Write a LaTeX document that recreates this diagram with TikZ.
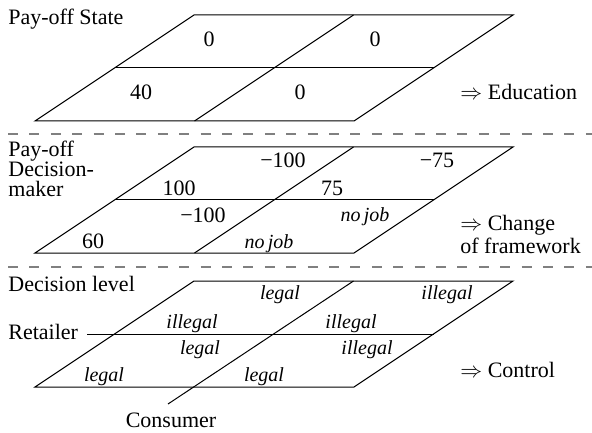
\documentclass[tikz,border=0pt]{standalone}
\usepackage{fontspec}
\setmainfont{Liberation Serif}
\tikzset{
  plane/.style={line width=0.5pt},
  sepline/.style={gray, line width=0.6pt, dash pattern=on 5pt off 5.7pt},
  val/.style={anchor=base, inner sep=0pt},
  lvl/.style={anchor=base, inner sep=0pt, font=\itshape},
  side/.style={anchor=base west, inner sep=0pt, align=left},
}
\begin{document}
\begin{tikzpicture}[x=0.5pt, y=-0.5pt, font=\fontsize{11}{10}\selectfont]
\useasboundingbox (0,0) rectangle (592,432);
% pay-off state
\coordinate (s1tl) at (194,15);
\coordinate (s1tr) at (513,15);
\coordinate (s1br) at (354,121);
\coordinate (s1bl) at (35,121);
\coordinate (s1ml) at (114.5,68);
\coordinate (s1mr) at (433.5,68);
\coordinate (s1tc) at (353.5,15);
\coordinate (s1bc) at (194.5,121);
\draw[plane] (s1tl) -- (s1tr) -- (s1br) -- (s1bl) -- cycle;
\draw[plane] (s1ml) -- (s1mr);
\draw[plane] (s1tc) -- (s1bc);
\node[side] (pstate) at (8,25) {Pay-off State};
\node[val] (s1a) at (209,47) {0};
\node[val] (s1b) at (375,47) {0};
\node[val] (s1c) at (141,100) {40};
\node[val] (s1d) at (300,100) {0};
\node[side] (educ) at (460,100) {$\Rightarrow$ Education};
\coordinate (sep1l) at (8,134);
\coordinate (sep1r) at (592,134);
\draw[sepline] (sep1l) -- (sep1r);
% pay-off decision-maker
\coordinate (s2tl) at (194,147);
\coordinate (s2tr) at (513,147);
\coordinate (s2br) at (354,253);
\coordinate (s2bl) at (35,253);
\coordinate (s2ml) at (114.5,200);
\coordinate (s2mr) at (433.5,200);
\coordinate (s2tc) at (353.5,147);
\coordinate (s2bc) at (194.5,253);
\draw[plane] (s2tl) -- (s2tr) -- (s2br) -- (s2bl) -- cycle;
\draw[plane] (s2ml) -- (s2mr);
\draw[plane] (s2tc) -- (s2bc);
\node[side] (pdm) at (8,197) {Pay-off\\Decision-\\maker};
\node[val] (s2a) at (283,168) {−100};
\node[val] (s2b) at (179,196) {100};
\node[val] (s2c) at (437,168) {−75};
\node[val] (s2d) at (332,196) {75};
\node[val] (s2e) at (203,222) {−100};
\node[val] (s2f) at (93,248) {60};
\node[lvl] (s2g) at (365,221) {no\,job};
\node[lvl] (s2h) at (269,248) {no\,job};
\node[side] (change) at (460,253) {$\Rightarrow$ Change\\of framework};
\coordinate (sep2l) at (8,267);
\coordinate (sep2r) at (592,267);
\draw[sepline] (sep2l) -- (sep2r);
% decision level
\coordinate (s3tl) at (194,281);
\coordinate (s3tr) at (513,281);
\coordinate (s3br) at (354,387);
\coordinate (s3bl) at (35,387);
\coordinate (s3mr) at (433.5,334);
\coordinate (s3tc) at (353.5,281);
\coordinate (cend) at (168,404);
\draw[plane] (s3tl) -- (s3tr) -- (s3br) -- (s3bl) -- cycle;
\node[side] (declevel) at (8,291) {Decision level};
\node[side] (retailer) at (8,339) {Retailer};
\node[val] (consumer) at (171,427) {Consumer};
\draw[plane] ([xshift=4.5pt]retailer.east |- s3mr) -- (s3mr);
\draw[plane] (s3tc) -- (cend);
\node[lvl] (s3a) at (280,299) {legal};
\node[lvl] (s3b) at (447,299) {illegal};
\node[lvl] (s3c) at (192,328) {illegal};
\node[lvl] (s3d) at (351,328) {illegal};
\node[lvl] (s3e) at (200,354) {legal};
\node[lvl] (s3f) at (367,354) {illegal};
\node[lvl] (s3g) at (104,381) {legal};
\node[lvl] (s3h) at (264,381) {legal};
\node[side] (control) at (460,377) {$\Rightarrow$ Control};
\end{tikzpicture}
\end{document}
